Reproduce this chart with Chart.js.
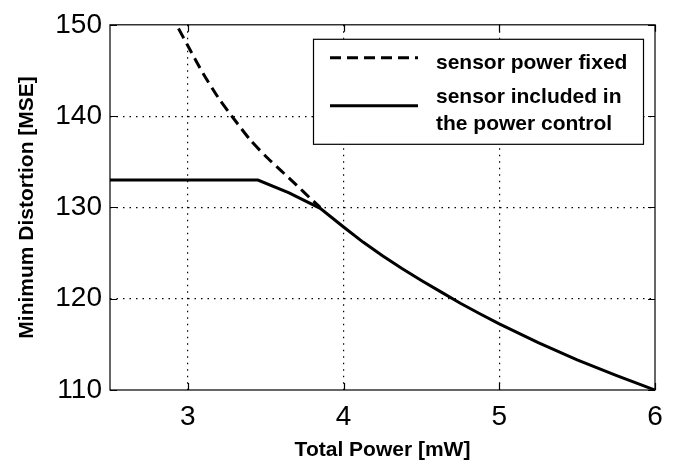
<!DOCTYPE html>
<html><head><meta charset="utf-8">
<script src="https://cdn.jsdelivr.net/npm/chart.js@4"></script>
<style>html,body{margin:0;padding:0;background:#fff}#wrap{width:678px;height:461px}</style>
</head><body><div id="wrap"><canvas id="c" width="678" height="461"></canvas></div>
<script>
// ---- data ----
const fixedPower      = [2.94, 3.0, 3.1, 3.2, 3.3, 3.4, 3.5, 3.6, 3.7, 3.78, 3.85];
const fixedDistortion = [149.6, 147.7, 144.6, 141.9, 139.6, 137.4, 135.6, 134.0, 132.4, 131.1, 130.0];
const inclPower       = [2.5, 3.45, 3.65, 3.85, 4.0, 4.125, 4.25, 4.375, 4.5, 4.625, 4.75, 4.875, 5.0, 5.25, 5.5, 5.75, 6.0];
const inclDistortion  = [133.0, 133.0, 131.6, 129.9, 127.85, 126.2, 124.7, 123.3, 122.0, 120.75, 119.5, 118.35, 117.25, 115.2, 113.3, 111.6, 110.0];
const xTickValues = [3, 4, 5, 6];
const yTickValues = [110, 120, 130, 140, 150];
const legendLabels = [['sensor power fixed'], ['sensor included in', 'the power control']];
const xTitle = 'Total Power [mW]';
const yTitle = 'Minimum Distortion [MSE]';

const FONT = "'Liberation Sans', Arial, Helvetica, sans-serif";
Chart.defaults.font.family = FONT;
Chart.defaults.color = '#000';

const toXY = (xs, ys) => xs.map((x, i) => ({x: x, y: ys[i]}));

const framePlugin = {
  id: 'frame',
  afterDatasetsDraw(chart) {
    const {ctx, chartArea: a, scales: {x, y}} = chart;
    ctx.save();
    ctx.strokeStyle = '#000';
    ctx.lineWidth = 1.2;
    ctx.setLineDash([]);
    ctx.strokeRect(a.left, a.top, a.right - a.left, a.bottom - a.top);
    const tl = 7;
    ctx.beginPath();
    x.ticks.forEach(t => {
      const px = Math.round(x.getPixelForValue(t.value)) + 0.5;
      ctx.moveTo(px, a.bottom); ctx.lineTo(px, a.bottom - tl);
      ctx.moveTo(px, a.top); ctx.lineTo(px, a.top + tl);
    });
    y.ticks.forEach(t => {
      const py = Math.round(y.getPixelForValue(t.value)) + 0.5;
      ctx.moveTo(a.left, py); ctx.lineTo(a.left + tl, py);
      ctx.moveTo(a.right, py); ctx.lineTo(a.right - tl, py);
    });
    ctx.stroke();
    ctx.restore();
  }
};

const boxLegend = {
  id: 'boxLegend',
  afterDraw(chart) {
    const {ctx, chartArea: a} = chart;
    const bx = a.right - 342, by = a.top + 14, bw = 330, bh = 105;
    ctx.save();
    ctx.fillStyle = '#fff';
    ctx.fillRect(bx, by, bw, bh);
    ctx.strokeStyle = '#000';
    ctx.lineWidth = 1.2;
    ctx.setLineDash([]);
    ctx.strokeRect(bx + 0.5, by + 0.5, bw, bh);
    const sampleX0 = bx + 17, sampleX1 = bx + 105;
    const sampleY = [by + 19, by + 67];
    const textX = bx + 123;
    const baselines = [[by + 30.5], [by + 64, by + 91]];
    ctx.font = 'bold 21px ' + FONT;
    ctx.textAlign = 'left';
    ctx.textBaseline = 'alphabetic';
    chart.data.datasets.forEach((ds, i) => {
      ctx.strokeStyle = ds.borderColor;
      ctx.lineWidth = ds.borderWidth;
      ctx.setLineDash(ds.borderDash || []);
      ctx.beginPath();
      ctx.moveTo(sampleX0, sampleY[i]);
      ctx.lineTo(sampleX1, sampleY[i]);
      ctx.stroke();
      ctx.fillStyle = '#000';
      legendLabels[i].forEach((line, j) => ctx.fillText(line, textX, baselines[i][j]));
    });
    ctx.restore();
  }
};

const gridColor = (edgeVals) => (c) => (c.tick && edgeVals.includes(c.tick.value)) ? 'rgba(0,0,0,0)' : '#000';

new Chart(document.getElementById('c'), {
  type: 'line',
  data: {
    datasets: [
      {label: legendLabels[0].join(' '), data: toXY(fixedPower, fixedDistortion),
       borderColor: '#000', borderWidth: 3, borderDash: [11, 6], pointRadius: 0, fill: false, tension: 0.2},
      {label: legendLabels[1].join(' '), data: toXY(inclPower, inclDistortion),
       borderColor: '#000', borderWidth: 3, pointRadius: 0, fill: false, tension: 0}
    ]
  },
  options: {
    responsive: false,
    animation: false,
    devicePixelRatio: 1,
    layout: {padding: {top: 22, right: 23, left: 0, bottom: 0}},
    plugins: {legend: {display: false}, tooltip: {enabled: false}},
    scales: {
      x: {
        type: 'linear', min: 2.5, max: 6,
        afterBuildTicks: s => { s.ticks = xTickValues.map(v => ({value: v})); },
        afterFit: s => { s.height = 71; },
        ticks: {font: {size: 28}, padding: 10, color: '#000', maxRotation: 0},
        grid: {color: gridColor([2.5, 6]), lineWidth: 1.2, drawTicks: false, tickLength: 0},
        border: {display: false, dash: [1.5, 5]},
        title: {display: true, text: xTitle, font: {size: 21, weight: 'bold'}, padding: {top: 0, bottom: -2}, color: '#000'}
      },
      y: {
        type: 'linear', min: 110, max: 150,
        afterBuildTicks: s => { s.ticks = yTickValues.map(v => ({value: v})); },
        afterFit: s => { s.width = 110; },
        ticks: {font: {size: 28}, padding: 8, color: '#000'},
        grid: {color: gridColor([110, 150]), lineWidth: 1.2, drawTicks: false, tickLength: 0},
        border: {display: false, dash: [1.5, 5]},
        title: {display: true, text: yTitle, font: {size: 21, weight: 'bold'}, padding: {top: 15, bottom: 0}, color: '#000'}
      }
    }
  },
  plugins: [framePlugin, boxLegend]
});
</script>
</body></html>
